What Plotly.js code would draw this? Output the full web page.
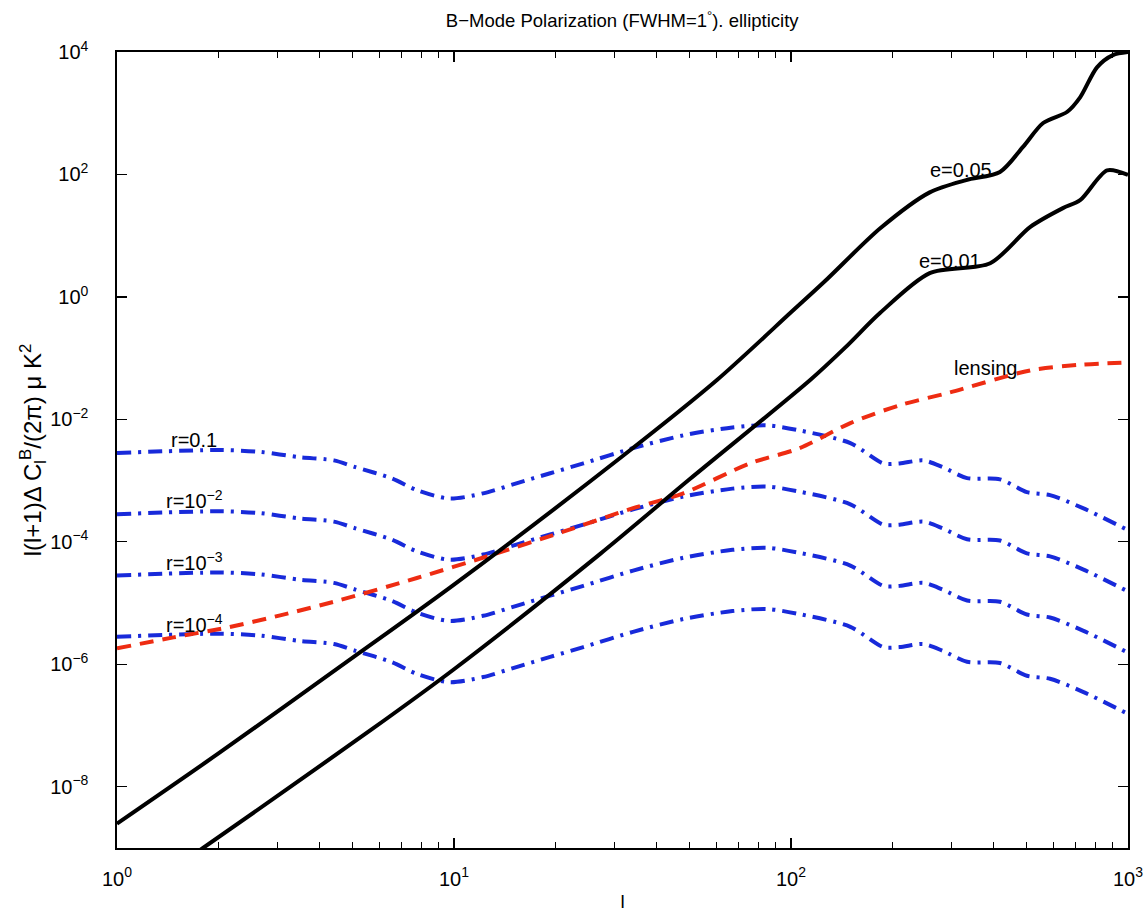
<!DOCTYPE html>
<html>
<head>
<meta charset="utf-8">
<script src="https://cdn.plot.ly/plotly-3.0.1.min.js"></script>
<style>html,body{margin:0;padding:0;background:#fff;}#chart{width:1148px;height:914px;}</style>
</head>
<body>
<div id="chart"></div>
<script>
// ---- data ----
const lE05 = [1, 2, 4.92, 10, 31.6, 60.3, 100, 126, 184, 258, 331, 417, 488, 560, 659, 721, 809, 902, 1000];
const vE05 = [2.5e-9, 3.5e-8, 1.2e-6, 2.0e-5, 2.5e-3, 4.4e-2, 0.56, 1.8, 13.2, 51, 81, 110, 282, 692, 1047, 1820, 5620, 8900, 10000];

const lE01 = [1, 1.80, 5.64, 10, 27.1, 50, 114, 145, 184, 258, 390, 512, 641, 721, 867, 1000];
const vE01 = [1.07e-10, 1e-9, 8.3e-8, 8.3e-7, 6.3e-5, 1.05e-3, 4.4e-2, 0.15, 0.55, 2.45, 3.55, 13.8, 28.2, 38, 117, 98];

const lLens = [1, 1.47, 2.12, 3.05, 4.59, 7.76, 12.8, 21.0, 34.0, 47.9, 75.5, 106, 150, 210, 296, 512, 721, 1000];
const vLens = [1.82e-6, 2.75e-6, 3.98e-6, 6.3e-6, 1.12e-5, 2.57e-5, 6.0e-5, 1.45e-4, 3.55e-4, 6.2e-4, 1.91e-3, 3.39e-3, 8.7e-3, 1.70e-2, 2.75e-2, 6.3e-2, 7.8e-2, 8.5e-2];

const lR = [1, 2, 2.65, 3.5, 4.4, 5.1, 6.5, 7.8, 9.7, 12.2, 15.4, 19.3, 24.2, 34, 48, 67, 85, 106, 150, 188, 210, 247, 282, 333, 417, 501, 587, 735, 1000];
const vR1 = [2.82e-3, 3.16e-3, 2.95e-3, 2.40e-3, 2.14e-3, 1.66e-3, 1.10e-3, 6.9e-4, 5.1e-4, 6.2e-4, 9.1e-4, 1.32e-3, 1.91e-3, 3.39e-3, 5.5e-3, 7.4e-3, 8.0e-3, 6.6e-3, 4.1e-3, 1.91e-3, 1.91e-3, 2.14e-3, 1.66e-3, 1.10e-3, 1.05e-3, 6.5e-4, 5.8e-4, 3.55e-4, 1.55e-4];
const vR2 = [2.82e-4, 3.16e-4, 2.95e-4, 2.40e-4, 2.14e-4, 1.66e-4, 1.10e-4, 6.9e-5, 5.1e-5, 6.2e-5, 9.1e-5, 1.32e-4, 1.91e-4, 3.39e-4, 5.5e-4, 7.4e-4, 8.0e-4, 6.6e-4, 4.1e-4, 1.91e-4, 1.91e-4, 2.14e-4, 1.66e-4, 1.10e-4, 1.05e-4, 6.5e-5, 5.8e-5, 3.55e-5, 1.55e-5];
const vR3 = [2.82e-5, 3.16e-5, 2.95e-5, 2.40e-5, 2.14e-5, 1.66e-5, 1.10e-5, 6.9e-6, 5.1e-6, 6.2e-6, 9.1e-6, 1.32e-5, 1.91e-5, 3.39e-5, 5.5e-5, 7.4e-5, 8.0e-5, 6.6e-5, 4.1e-5, 1.91e-5, 1.91e-5, 2.14e-5, 1.66e-5, 1.10e-5, 1.05e-5, 6.5e-6, 5.8e-6, 3.55e-6, 1.55e-6];
const vR4 = [2.82e-6, 3.16e-6, 2.95e-6, 2.40e-6, 2.14e-6, 1.66e-6, 1.10e-6, 6.9e-7, 5.1e-7, 6.2e-7, 9.1e-7, 1.32e-6, 1.91e-6, 3.39e-6, 5.5e-6, 7.4e-6, 8.0e-6, 6.6e-6, 4.1e-6, 1.91e-6, 1.91e-6, 2.14e-6, 1.66e-6, 1.10e-6, 1.05e-6, 6.5e-7, 5.8e-7, 3.55e-7, 1.55e-7];

const xTickVals = [1, 10, 100, 1000];
const xTickText = ['10<sup>0</sup>', '10<sup>1</sup>', '10<sup>2</sup>', '10<sup>3</sup>'];
const xMinorVals = [2,3,4,5,6,7,8,9,20,30,40,50,60,70,80,90,200,300,400,500,600,700,800,900];
const yTickVals = [1e4, 1e2, 1, 1e-2, 1e-4, 1e-6, 1e-8];
const yTickText = ['10<sup>4</sup>', '10<sup>2</sup>', '10<sup>0</sup>', '10<sup>\u22122</sup>', '10<sup>\u22124</sup>', '10<sup>\u22126</sup>', '10<sup>\u22128</sup>'];

const labels = [
  {t: 'e=0.05', l: 319, v: 118},
  {t: 'e=0.01', l: 296, v: 3.85},
  {t: 'lensing', l: 377, v: 0.069},
  {t: 'r=0.1', l: 1.69, v: 4.6e-3},
  {t: 'r=10<sup>\u22122</sup>', l: 1.70, v: 5.0e-4},
  {t: 'r=10<sup>\u22123</sup>', l: 1.70, v: 4.7e-5},
  {t: 'r=10<sup>\u22124</sup>', l: 1.70, v: 4.7e-6}
];

const FONT = 'Liberation Sans, Arial, Helvetica, sans-serif';
const BLUE = 'rgb(24,42,218)';
const RED = 'rgb(238,44,18)';
const blueDash = '14px,7px,3px,7px';

function tr(x, y, color, width, dash) {
  return {x: x, y: y, type: 'scatter', mode: 'lines', hoverinfo: 'skip',
    line: {color: color, width: width, dash: dash, shape: 'spline', smoothing: 0.8}};
}

const data = [
  tr(lR, vR1, BLUE, 4, blueDash),
  tr(lR, vR2, BLUE, 4, blueDash),
  tr(lR, vR3, BLUE, 4, blueDash),
  tr(lR, vR4, BLUE, 4, blueDash),
  tr(lLens, vLens, RED, 4, '14px,9px'),
  tr(lE05, vE05, 'black', 4, 'solid'),
  tr(lE01, vE01, 'black', 4, 'solid'),
  {x: [1, 1000], y: [1, 1], xaxis: 'x2', type: 'scatter', mode: 'lines', line: {width: 0}, opacity: 0, hoverinfo: 'skip'}
];

const layout = {
  width: 1148, height: 914,
  margin: {l: 117, r: 20, t: 52, b: 66},
  paper_bgcolor: 'white', plot_bgcolor: 'white',
  showlegend: false,
  font: {family: FONT, color: 'black', size: 19},
  title: {text: 'B\u2212Mode Polarization (FWHM=1<sup>\u00b0</sup>). ellipticity', x: 0.542, xanchor: 'center', y: 0.977, yanchor: 'middle', font: {family: FONT, size: 18.5, color: 'black'}},
  xaxis: {
    type: 'log', range: [0, 3], tickmode: 'array', tickvals: xTickVals, ticktext: xTickText,
    ticks: 'inside', ticklen: 10, tickwidth: 1.2, tickcolor: 'black',
    showline: true, linecolor: 'black', linewidth: 1.6, mirror: 'ticks',
    showgrid: false, zeroline: false, ticklabelstandoff: 12,
    tickfont: {family: FONT, size: 20, color: 'black'},
    title: {text: 'l', font: {family: FONT, size: 19, color: 'black'}, standoff: 6}
  },
  xaxis2: {
    type: 'log', range: [0, 3], overlaying: 'x', side: 'bottom', tickmode: 'array', tickvals: xMinorVals,
    ticks: 'inside', ticklen: 6, tickwidth: 1.2, tickcolor: 'black', showticklabels: false,
    showline: false, mirror: 'ticks', showgrid: false, zeroline: false
  },
  yaxis: {
    type: 'log', range: [-9, 4], tickmode: 'array', tickvals: yTickVals, ticktext: yTickText,
    ticks: 'inside', ticklen: 10, tickwidth: 1.2, tickcolor: 'black',
    showline: true, linecolor: 'black', linewidth: 1.6, mirror: 'ticks',
    showgrid: false, zeroline: false, ticklabelstandoff: 23,
    tickfont: {family: FONT, size: 20, color: 'black'},
    title: {text: 'l(l+1)\u0394 C<sub>l</sub><sup>B</sup>/(2\u03c0) \u03bc K<sup>2</sup>', font: {family: FONT, size: 24, color: 'black'}, standoff: 0}
  },
  annotations: labels.map(a => ({
    x: Math.log10(a.l), y: Math.log10(a.v), xref: 'x', yref: 'y', text: a.t, showarrow: false,
    xanchor: 'center', yanchor: 'middle', font: {family: FONT, size: 20, color: 'black'}
  }))
};

Plotly.newPlot('chart', data, layout, {staticPlot: true, displayModeBar: false});
</script>
</body>
</html>
